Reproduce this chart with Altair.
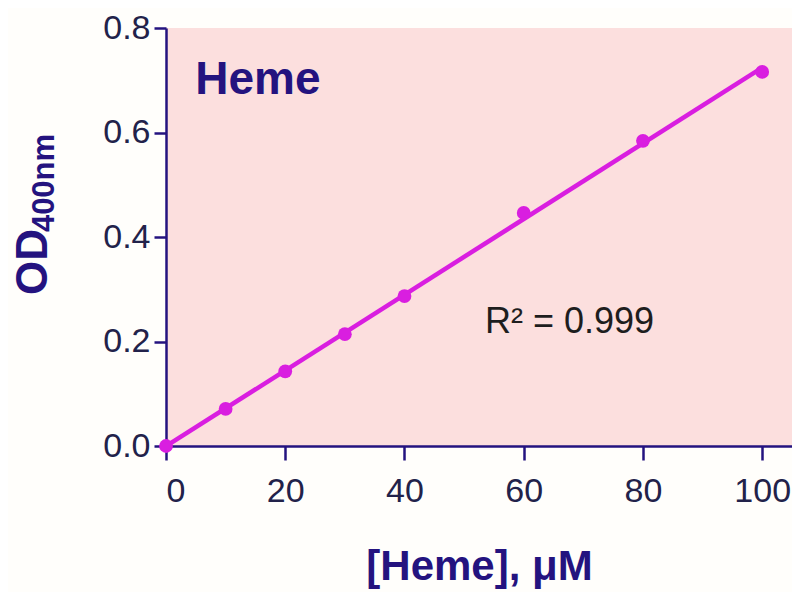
import altair as alt
import pandas as pd

conc = [0, 10, 20, 30, 40, 60, 80, 100]
od = [0.0, 0.071, 0.143, 0.214, 0.287, 0.446, 0.584, 0.716]
x_ticks = [0, 20, 40, 60, 80, 100]
y_ticks = [0.0, 0.2, 0.4, 0.6, 0.8]

df = pd.DataFrame({"conc": conc, "od": od})

NAVY = "#24137f"
MAG = "#d91ee0"
FONT = "Liberation Sans"

xs = alt.Scale(domain=[0, 105], nice=False, zero=False)
ys = alt.Scale(domain=[0, 0.8], nice=False)

xenc = alt.X("conc:Q", scale=xs, title="[Heme], μM",
             axis=alt.Axis(values=x_ticks, grid=False, tickSize=14, labelPadding=14,
                           titlePadding=38))
yenc = alt.Y("od:Q", scale=ys, title=None,
             axis=alt.Axis(values=y_ticks, format=".1f", grid=False, tickSize=12,
                           labelPadding=4))

base = alt.Chart(df)

line = base.mark_line(color=MAG, strokeWidth=4.5).transform_regression(
    "conc", "od", method="linear", extent=[0, 100]
).encode(x=xenc, y=yenc)

pts = base.mark_circle(color=MAG, size=190, opacity=1).encode(x=xenc, y=yenc)

ann = pd.DataFrame({"x": [4.9], "y": [0.70], "t": ["Heme"]})
heme = alt.Chart(ann).mark_text(font=FONT, fontSize=46, fontWeight="bold", color=NAVY,
                                align="left", baseline="middle").encode(
    x=alt.X("x:Q", scale=xs), y=alt.Y("y:Q", scale=ys), text="t:N")

r2df = pd.DataFrame({"x": [53.5], "y": [0.237], "t": ["R² = 0.999"]})
r2 = alt.Chart(r2df).mark_text(font=FONT, fontSize=36, color="#1e1e1e",
                               align="left", baseline="middle").encode(
    x=alt.X("x:Q", scale=xs), y=alt.Y("y:Q", scale=ys), text="t:N")

od_t = alt.Chart(pd.DataFrame({"t": ["OD"]})).mark_text(
    font=FONT, fontSize=44, fontWeight="bold", color=NAVY, angle=270,
    align="center", baseline="middle").encode(
    x=alt.value(-132), y=alt.value(234), text="t:N")
sub_t = alt.Chart(pd.DataFrame({"t": ["400nm"]})).mark_text(
    font=FONT, fontSize=31, fontWeight="bold", color=NAVY, angle=270,
    align="center", baseline="middle").encode(
    x=alt.value(-121), y=alt.value(155), text="t:N")

chart = alt.layer(line, pts, heme, r2, od_t, sub_t).properties(
    width=626, height=418,
    background="#fffefb",
    autosize=alt.AutoSizeParams(type="none"),
    padding={"left": 158, "top": 20, "right": 0, "bottom": 146},
).configure_view(fill="#fcdfde", stroke=None).configure_axis(
    domainColor=NAVY, domainWidth=2.5, tickColor=NAVY, tickWidth=2.5,
    labelFont=FONT, labelFontSize=34, labelColor="#22224a",
    titleFont=FONT, titleFontSize=42, titleFontWeight="bold", titleColor=NAVY,
)

chart.save("out.html", embed_options={"renderer": "svg", "actions": False})
